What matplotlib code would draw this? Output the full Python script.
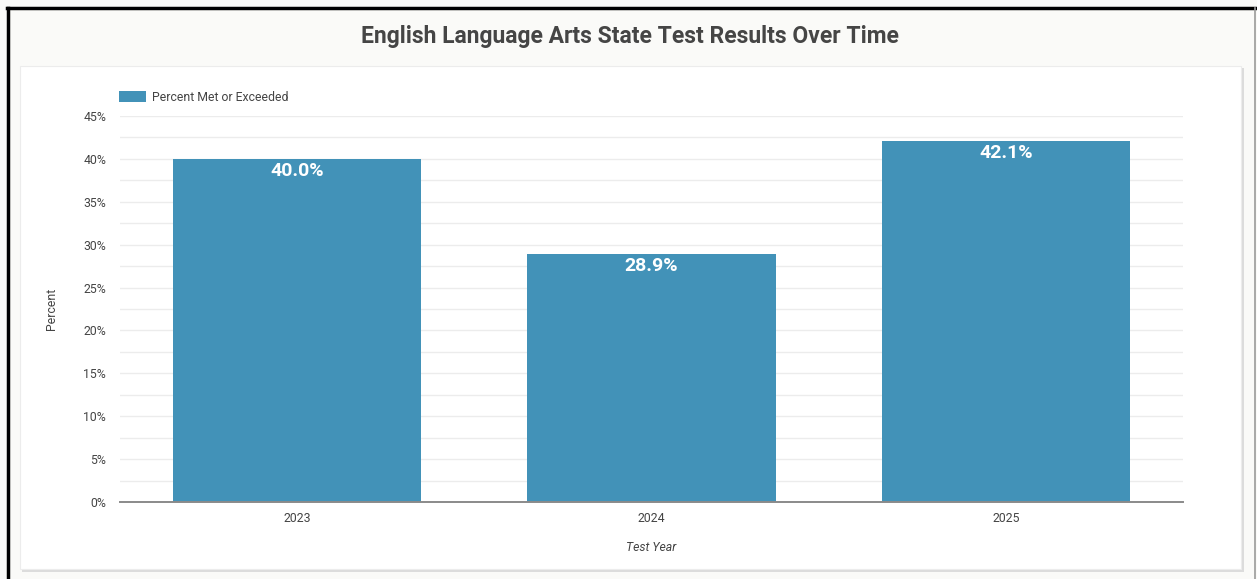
import matplotlib
matplotlib.use("Agg")
import matplotlib.pyplot as plt
from matplotlib.patches import Rectangle
from matplotlib.ticker import MultipleLocator, FuncFormatter

years = ["2023", "2024", "2025"]
percent_met = [40.0, 28.9, 42.1]
series_name = "Percent Met or Exceeded"
title = "English Language Arts State Test Results Over Time"

W, H = 1257, 579
plt.rcParams["font.family"] = ["Roboto", "DejaVu Sans"]
fig = plt.figure(figsize=(W / 100, H / 100), dpi=100)
fig.patch.set_facecolor("#fafaf8")

def fx(x):
    return x / W

def fy(y):
    return 1 - y / H

# outer frame (black top/left, grey right)
fig.add_artist(plt.Line2D([fx(7), fx(1256)], [fy(8), fy(8)], color="black", lw=2.5, transform=fig.transFigure, zorder=-1))
fig.add_artist(plt.Line2D([fx(7.5), fx(7.5)], [fy(8), fy(579)], color="black", lw=2.5, transform=fig.transFigure, zorder=-1))
fig.add_artist(plt.Line2D([fx(1255), fx(1255)], [fy(8), fy(579)], color="#9a9a9a", lw=1.2, transform=fig.transFigure, zorder=-1))

# card with shadow
fig.add_artist(Rectangle((fx(22), fy(572)), fx(1222), fy(68) - fy(572), transform=fig.transFigure,
                         facecolor="#dcdcdc", edgecolor="none", zorder=-3))
fig.add_artist(Rectangle((fx(20), fy(569)), fx(1221), fy(66) - fy(569), transform=fig.transFigure,
                         facecolor="white", edgecolor="#ececec", lw=0.8, zorder=-2))

fig.text(0.501, fy(37), title, ha="center", va="center", fontsize=16.5, fontweight="bold", color="#454545")

ax = fig.add_axes([fx(120), fy(502), fx(1183) - fx(120), fy(116) - fy(502)])
ax.set_zorder(2)
ax.patch.set_alpha(0)
x = list(range(len(years)))
bars = ax.bar(x, percent_met, width=0.70, color="#4292b8", zorder=3, label=series_name)
ax.set_xlim(-0.5, len(years) - 0.5)
ax.set_ylim(0, 45)
ax.yaxis.set_major_locator(MultipleLocator(5))
ax.yaxis.set_minor_locator(MultipleLocator(2.5))
ax.yaxis.set_major_formatter(FuncFormatter(lambda v, p: f"{v:.0f}%"))
ax.grid(axis="y", which="both", color="#ececec", lw=1.0, zorder=0)
ax.set_axisbelow(True)
for s in ["top", "right", "left"]:
    ax.spines[s].set_visible(False)
ax.spines["bottom"].set_color("#8a8a8a")
ax.spines["bottom"].set_linewidth(1.4)
ax.spines["bottom"].set_zorder(4)
ax.tick_params(axis="y", which="both", length=0, labelsize=8.8, labelcolor="#444444", pad=10)
ax.tick_params(axis="x", length=0, labelsize=8.8, labelcolor="#444444", pad=7.5)
ax.set_xticks(x)
ax.set_xticklabels(years)
ax.set_xlabel("Test Year", fontsize=8.8, style="italic", color="#444444", labelpad=11)
ax.set_ylabel("Percent", fontsize=8.8, color="#444444", labelpad=18)

for b, v in zip(bars, percent_met):
    ax.annotate(f"{v:.1f}%", (b.get_x() + b.get_width() / 2, v), xytext=(0, -8.5),
                textcoords="offset points", ha="center", va="center", fontsize=14,
                fontweight="bold", color="white", zorder=5)

leg = ax.legend(loc="upper left", bbox_to_anchor=(fx(114), fy(86)), bbox_transform=fig.transFigure,
                frameon=False, fontsize=8.8, handlelength=2.2, handleheight=1.0, handletextpad=0.5,
                borderaxespad=0)
for t in leg.get_texts():
    t.set_color("#444444")

fig.savefig("out.png", dpi=100, facecolor=fig.get_facecolor())
